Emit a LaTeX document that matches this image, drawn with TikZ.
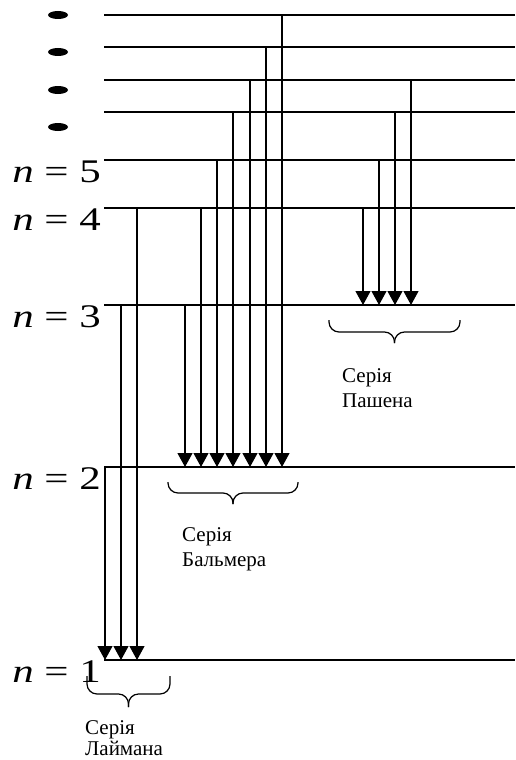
\documentclass[tikz,border=0pt]{standalone}
\usepackage{fontspec}
\setmainfont{Liberation Serif}
\usetikzlibrary{arrows.meta}

\begin{document}
\begin{tikzpicture}[
	x=1pt, y=-1pt,
	level/.style={line width=1.2pt},
	arrow/.style={-{Triangle[width=15pt,length=14pt]}, line width=1.2pt},
	nlabel/.style={anchor=base east, inner sep=0pt, font=\fontsize{33}{33}\selectfont},
	series/.style={anchor=north west, inner sep=0pt, align=left, font=\fontsize{21}{25}\selectfont},
	sbrace/.style={line width=1.2pt, rounded corners=10pt}
	]
	\useasboundingbox (0,0) rectangle (515,760);
	
	\foreach \n/\y in {1/660, 2/467, 3/305, 4/208, 5/160, 6/112, 7/80, 8/47, 9/15} {
		\coordinate (L\n) at (104,\y);
		\draw[level] (L\n) -- (515,\y);
	}
	
	\foreach \y in {15, 52, 90, 127}
		\fill (58,\y) ellipse [x radius=10pt, y radius=4pt];
	
	\foreach \n in {1,...,5}
		\node[nlabel] (lab\n) at ([xshift=-3pt, yshift=-22.5pt]L\n) {\scalebox{1.3}[1]{\textit{n} = \n}};
	
	\foreach \s/\n in {1/2, 17/3, 33/4}
		\draw[arrow] ([xshift=\s pt]L\n) -- ([xshift=\s pt]L1);
	\foreach \s/\n in {81/3, 97/4, 113/5, 129/6, 146/7, 162/8, 178/9}
		\draw[arrow] ([xshift=\s pt]L\n) -- ([xshift=\s pt]L2);
	\foreach \s/\n in {259/4, 275/5, 291/6, 307/7}
		\draw[arrow] ([xshift=\s pt]L\n) -- ([xshift=\s pt]L3);
	
	\foreach \l/\r/\t/\m/\b in {87/170/676/694/707, 168/298/482/493/504, 329/460/320/332/343} {
		\draw[sbrace] (\l,\t) |- ({(\l+\r)/2},\m) -- ({(\l+\r)/2},\b);
		\draw[sbrace] (\r,\t) |- ({(\l+\r)/2},\m) -- ({(\l+\r)/2},\b);
	}
	
	\node[series, font=\fontsize{21}{21}\selectfont] (lyman) at (85,720) {Серія\\Лаймана};
	\node[series] (balmer) at (182,527) {Серія\\Бальмера};
	\node[series] (paschen) at (342,368) {Серія\\Пашена};
\end{tikzpicture}
\end{document}
